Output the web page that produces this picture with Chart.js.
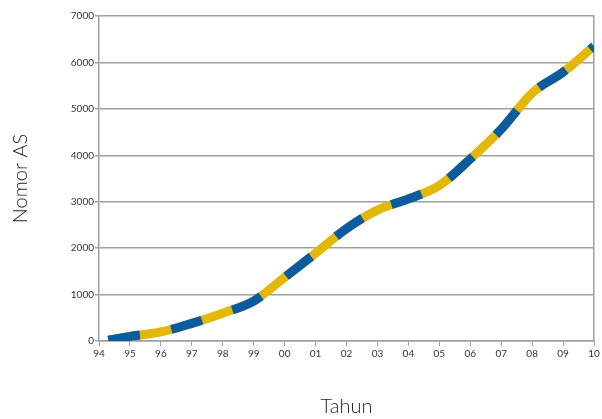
<!DOCTYPE html>
<html lang="id">
<head>
    <meta charset="UTF-8">
    <title>Nomor AS per Tahun</title>
    <style>
        body {
            margin: 0;
            background: #ffffff;
        }

        .chart-box {
            width: 602px;
            height: 419px;
        }
    </style>
</head>
<body>
    <div class="chart-box">
        <canvas id="chartAS"></canvas>
    </div>

    <script src="https://cdn.jsdelivr.net/npm/chart.js"></script>
    <script>
        // data
        const years = [1994.3, 1995, 1996, 1997, 1998, 1999, 2000, 2001, 2002, 2003, 2004, 2005, 2006, 2007, 2008, 2009, 2010];
        const asNumbers = [20, 100, 195, 380, 600, 860, 1370, 1890, 2420, 2820, 3060, 3350, 3920, 4560, 5340, 5790, 6350];
        const yearTicks = ['94', '95', '96', '97', '98', '99', '00', '01', '02', '03', '04', '05', '06', '07', '08', '09', '10'];
        const yTicks = [0, 1000, 2000, 3000, 4000, 5000, 6000, 7000];

        const points = years.map((y, i) => ({ x: y, y: asNumbers[i] }));

        const gridColor = '#a0a0a0';
        const tickFont = { family: 'Lato', size: 10 };

        const ctx = document.getElementById('chartAS').getContext('2d');
        const chartAS = new Chart(ctx, {
            type: 'line',
            data: {
                datasets: [
                    {
                        // blue dashes on top
                        data: points,
                        borderColor: '#0a5c9e',
                        borderWidth: 9,
                        borderDash: [32, 32],
                        pointRadius: 0,
                        tension: 0.4,
                        cubicInterpolationMode: 'monotone',
                        order: 0
                    },
                    {
                        // yellow underneath
                        data: points,
                        borderColor: '#e2b90a',
                        borderWidth: 9,
                        pointRadius: 0,
                        tension: 0.4,
                        cubicInterpolationMode: 'monotone',
                        order: 1
                    }
                ]
            },
            options: {
                responsive: true,
                maintainAspectRatio: false,
                animation: false,
                layout: {
                    padding: { top: 16, right: 8, left: 0, bottom: 0 }
                },
                plugins: {
                    legend: { display: false },
                    tooltip: { enabled: false }
                },
                scales: {
                    x: {
                        type: 'linear',
                        min: 1994,
                        max: 2010,
                        afterBuildTicks: (scale) => {
                            scale.ticks = yearTicks.map((t, i) => ({ value: 1994 + i }));
                        },
                        afterFit: (scale) => { scale.height = 78; },
                        ticks: {
                            autoSkip: false,
                            maxRotation: 0,
                            color: '#333',
                            font: tickFont,
                            padding: 2,
                            callback: (v) => yearTicks[Math.round(v) - 1994]
                        },
                        grid: {
                            drawOnChartArea: false,
                            tickLength: 5,
                            color: gridColor
                        },
                        border: { color: gridColor, width: 1.5 },
                        title: {
                            display: true,
                            text: 'Tahun',
                            color: '#222',
                            font: { family: 'Lato', size: 20, weight: '300' },
                            padding: { top: 0, bottom: 0 }
                        }
                    },
                    y: {
                        min: 0,
                        max: 7000,
                        afterBuildTicks: (scale) => {
                            scale.ticks = yTicks.map(v => ({ value: v }));
                        },
                        afterFit: (scale) => { scale.width = 99; },
                        ticks: {
                            color: '#333',
                            font: tickFont,
                            padding: 1,
                            callback: (v) => String(v)
                        },
                        grid: {
                            color: gridColor,
                            lineWidth: 1.5,
                            tickLength: 4
                        },
                        border: { color: gridColor, width: 1.5 },
                        title: {
                            display: true,
                            text: 'Nomor AS',
                            color: '#222',
                            font: { family: 'Lato', size: 20, weight: '300' },
                            padding: { top: 9, bottom: 0 }
                        }
                    },
                    yRight: {
                        position: 'right',
                        min: 0,
                        max: 7000,
                        afterFit: (scale) => { scale.width = 0; },
                        ticks: { display: false },
                        grid: { drawOnChartArea: false, drawTicks: false },
                        border: { color: gridColor, width: 1.5 }
                    }
                }
            }
        });
    </script>
</body>
</html>
